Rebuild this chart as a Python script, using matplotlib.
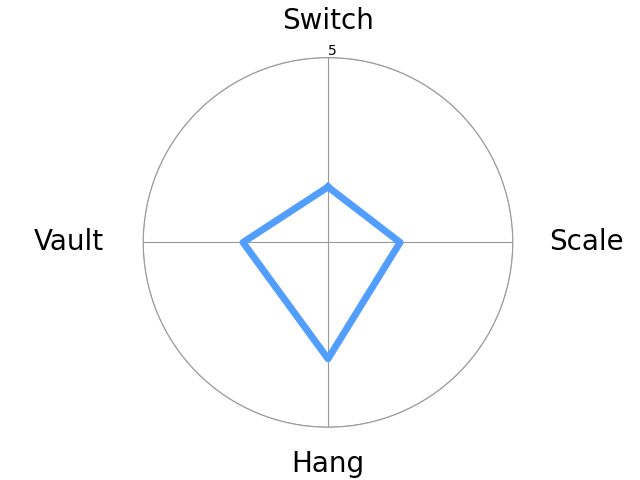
import numpy as np
import matplotlib
matplotlib.use("Agg")
import matplotlib.pyplot as plt

categories = ["Switch", "Scale", "Hang", "Vault"]
values = [1.5, 1.95, 3.15, 2.3]

fig = plt.figure(figsize=(6.4, 4.8), dpi=100)
ax = fig.add_subplot(111, polar=True)
ax.set_theta_offset(np.pi / 2)
ax.set_theta_direction(-1)

angles = np.linspace(0, 2 * np.pi, len(categories), endpoint=False)
a = np.concatenate([angles, angles[:1]])
v = values + values[:1]
ax.plot(a, v, color="#519eff", linewidth=5)

ax.set_ylim(0, 5)
ax.set_yticks([5])
ax.set_yticklabels(["5"], fontsize=10)
ax.set_rlabel_position(0)
ax.set_xticks(angles)
ax.set_xticklabels([])
for ang, lab in zip(angles, categories):
    r = 6.0 + 1.0 * abs(np.sin(ang))
    ax.text(ang, r, lab, fontsize=20, ha="center", va="center", clip_on=False)
ax.grid(color="#999999", linewidth=0.8)
ax.spines["polar"].set_color("#999999")
ax.spines["polar"].set_linewidth(0.8)

fig.savefig("out.png", dpi=100)
